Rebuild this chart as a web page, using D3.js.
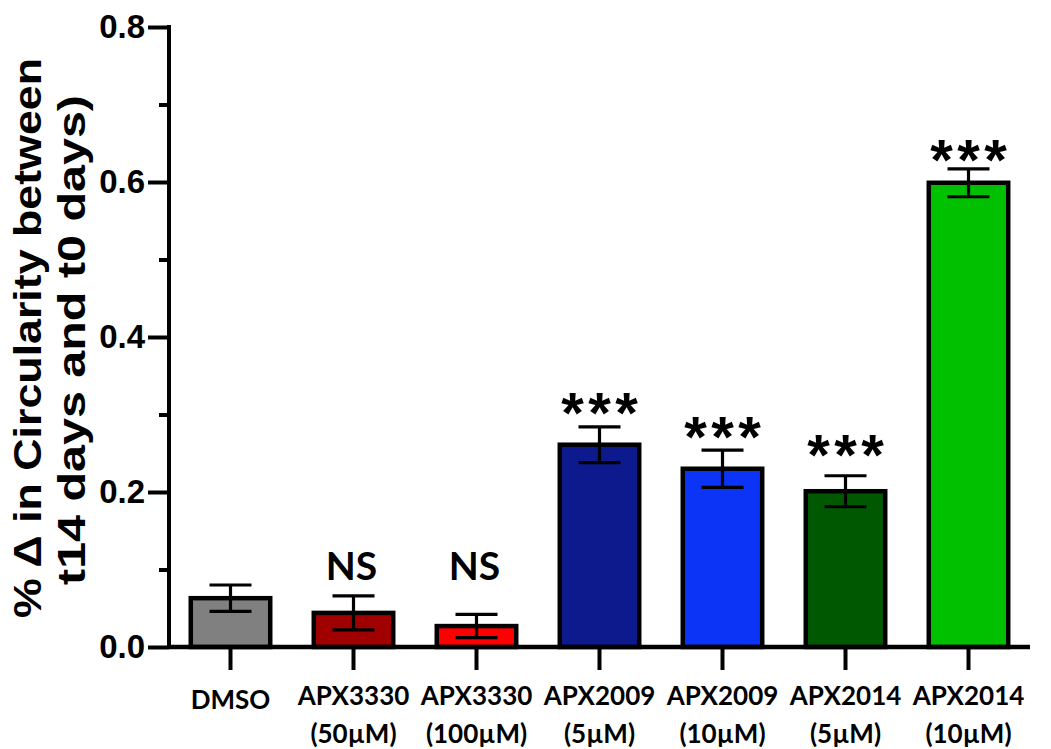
<!DOCTYPE html>
<html>
<head>
<meta charset="utf-8">
<script src="https://cdn.jsdelivr.net/npm/d3@7"></script>
<style>
  html, body { margin: 0; padding: 0; background: #ffffff; }
  svg { display: block; }
</style>
</head>
<body>
<script>
// ---- data ----
const categories = ["DMSO", "APX3330 (50µM)", "APX3330 (100µM)", "APX2009 (5µM)", "APX2009 (10µM)", "APX2014 (5µM)", "APX2014 (10µM)"];
const labelLine1 = ["DMSO", "APX3330", "APX3330", "APX2009", "APX2009", "APX2014", "APX2014"];
const labelLine2 = ["", "(50µM)", "(100µM)", "(5µM)", "(10µM)", "(5µM)", "(10µM)"];
const means = [0.063, 0.044, 0.027, 0.261, 0.230, 0.201, 0.599];
const errors = [0.017, 0.022, 0.015, 0.023, 0.024, 0.020, 0.018];
const significance = ["", "NS", "NS", "***", "***", "***", "***"];
const significanceLevel = [null, 0.105, 0.105, 0.317, 0.286, 0.263, 0.644];
const barColors = ["#808080", "#a00000", "#ff0000", "#0c1a8e", "#0b34f6", "#005800", "#00c000"];
const majorTicks = [0.0, 0.2, 0.4, 0.6, 0.8];
const minorTicks = [0.1, 0.3, 0.5, 0.7];
const yTitle1 = "% \u0394 in Circularity between";
const yTitle2 = "t14 days and t0 days)";

// ---- layout ----
const W = 1051, H = 749;
const axisX = 169, axisY = 647, topY = 27, rightX = 1030;

const svg = d3.select("body").append("svg")
  .attr("width", W).attr("height", H);
svg.append("rect").attr("width", W).attr("height", H).attr("fill", "#ffffff");

const y = d3.scaleLinear().domain([0, 0.8]).range([axisY, topY]);
const x = d3.scaleBand().domain(categories).range([axisX, rightX])
  .paddingInner(0.354).paddingOuter(0.177);
const cx = d => x(d) + x.bandwidth() / 2;

const data = categories.map((c, i) => ({
  cat: c, mean: means[i], err: errors[i], color: barColors[i],
  sig: significance[i], sigY: significanceLevel[i],
  l1: labelLine1[i], l2: labelLine2[i]
}));

// bars
svg.append("g").selectAll("rect").data(data).join("rect")
  .attr("x", d => x(d.cat))
  .attr("y", d => y(d.mean))
  .attr("width", x.bandwidth())
  .attr("height", d => y(0) - y(d.mean))
  .attr("fill", d => d.color)
  .attr("stroke", "#000").attr("stroke-width", 4.5);

// error bars
const eb = svg.append("g").attr("stroke", "#000").attr("stroke-width", 3.2);
const capHalf = 21;
eb.selectAll("line.v").data(data).join("line").attr("class", "v")
  .attr("x1", d => cx(d.cat)).attr("x2", d => cx(d.cat))
  .attr("y1", d => y(d.mean - d.err)).attr("y2", d => y(d.mean + d.err));
eb.selectAll("line.t").data(data).join("line").attr("class", "t")
  .attr("x1", d => cx(d.cat) - capHalf).attr("x2", d => cx(d.cat) + capHalf)
  .attr("y1", d => y(d.mean + d.err)).attr("y2", d => y(d.mean + d.err));
eb.selectAll("line.b").data(data).join("line").attr("class", "b")
  .attr("x1", d => cx(d.cat) - capHalf).attr("x2", d => cx(d.cat) + capHalf)
  .attr("y1", d => y(d.mean - d.err)).attr("y2", d => y(d.mean - d.err));

// y axis (major)
const yAxis = d3.axisLeft(y).tickValues(majorTicks).tickFormat(d3.format(".1f"))
  .tickSize(21).tickPadding(3);
const gy = svg.append("g").attr("transform", `translate(${axisX},0)`).call(yAxis);
gy.select(".domain").remove();
gy.selectAll(".tick line").attr("stroke", "#000").attr("stroke-width", 4);
gy.selectAll(".tick text")
  .attr("font-family", "'Liberation Sans', Arial, sans-serif")
  .attr("font-weight", "bold").attr("font-size", 33).attr("fill", "#000");
// minor ticks
const yMinor = d3.axisLeft(y).tickValues(minorTicks).tickFormat("").tickSize(10);
const gym = svg.append("g").attr("transform", `translate(${axisX},0)`).call(yMinor);
gym.select(".domain").remove();
gym.selectAll(".tick line").attr("stroke", "#000").attr("stroke-width", 4);
// y axis line
svg.append("line").attr("x1", axisX).attr("x2", axisX)
  .attr("y1", y(0.8) - 2).attr("y2", y(0) + 2)
  .attr("stroke", "#000").attr("stroke-width", 4);

// x axis
const xAxis = d3.axisBottom(x).tickSize(23).tickFormat("");
const gx = svg.append("g").attr("transform", `translate(0,${axisY})`).call(xAxis);
gx.select(".domain").remove();
gx.selectAll(".tick line").attr("stroke", "#000").attr("stroke-width", 4);
svg.append("line").attr("x1", axisX).attr("x2", rightX)
  .attr("y1", axisY).attr("y2", axisY)
  .attr("stroke", "#000").attr("stroke-width", 4.5);

// x labels
const lblFont = "Lato, 'Open Sans', sans-serif";
const xl = svg.append("g").attr("font-family", lblFont).attr("font-weight", "bold")
  .attr("font-size", 26).attr("fill", "#000").attr("text-anchor", "middle");
xl.selectAll("text.l1").data(data).join("text").attr("class", "l1")
  .attr("x", d => cx(d.cat))
  .attr("y", d => d.l2 ? 705 : 709)
  .text(d => d.l1);
xl.selectAll("text.l2").data(data.filter(d => d.l2)).join("text").attr("class", "l2")
  .attr("x", d => cx(d.cat)).attr("y", 743)
  .text(d => d.l2);

// significance labels
const sigData = data.filter(d => d.sig);
svg.append("g").selectAll("text").data(sigData.filter(d => d.sig === "NS")).join("text")
  .attr("x", d => cx(d.cat) - 2).attr("y", d => y(d.sigY) + 14)
  .attr("text-anchor", "middle")
  .attr("font-family", lblFont).attr("font-weight", "bold").attr("font-size", 39)
  .attr("fill", "#000").text(d => d.sig);
const stars = sigData.filter(d => d.sig === "***");
const starG = svg.append("g").attr("font-family", "'Liberation Sans', Arial, sans-serif")
  .attr("font-weight", "bold").attr("font-size", 58).attr("fill", "#000").attr("text-anchor", "middle");
stars.forEach(d => {
  [-27, 0, 27].forEach(off => {
    starG.append("text").attr("x", cx(d.cat) + off).attr("y", y(d.sigY) + 32).text("*");
  });
});

// y title
const tf = "'Liberation Sans', Arial, sans-serif";
svg.append("text").attr("transform", "translate(41,338) rotate(-90)")
  .attr("text-anchor", "middle").attr("font-family", tf).attr("font-weight", "bold")
  .attr("font-size", 39).attr("fill", "#000")
  .attr("textLength", 560).attr("lengthAdjust", "spacingAndGlyphs")
  .text(yTitle1);
svg.append("text").attr("transform", "translate(85,340) rotate(-90)")
  .attr("text-anchor", "middle").attr("font-family", tf).attr("font-weight", "bold")
  .attr("font-size", 39).attr("fill", "#000")
  .attr("textLength", 490).attr("lengthAdjust", "spacingAndGlyphs")
  .text(yTitle2);
</script>
</body>
</html>
